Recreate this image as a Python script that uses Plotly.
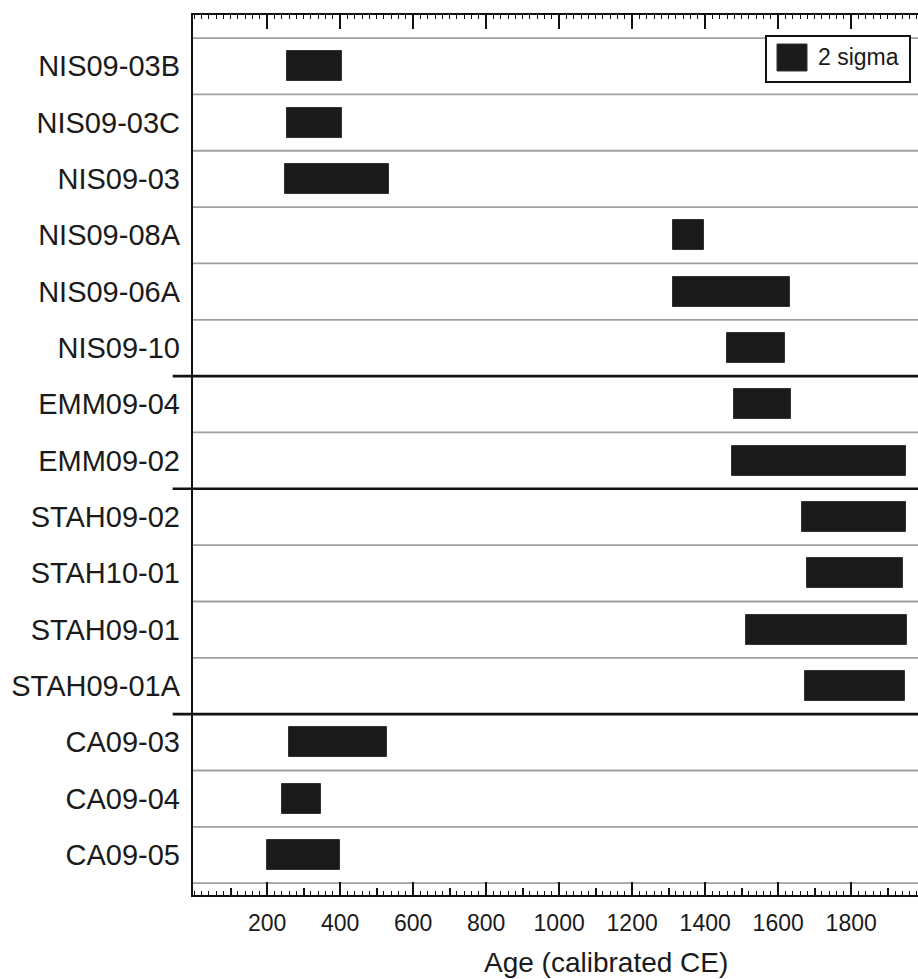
import plotly.graph_objects as go

# ---- data ----
samples = ["NIS09-03B", "NIS09-03C", "NIS09-03", "NIS09-08A", "NIS09-06A", "NIS09-10",
           "EMM09-04", "EMM09-02",
           "STAH09-02", "STAH10-01", "STAH09-01", "STAH09-01A",
           "CA09-03", "CA09-04", "CA09-05"]
start_ce = [255, 255, 250, 1311, 1311, 1460,
            1478, 1473,
            1664, 1680, 1512, 1673,
            260, 240, 200]
end_ce = [405, 405, 533, 1396, 1632, 1620,
          1635, 1950,
          1950, 1941, 1952, 1947,
          528, 347, 400]
group_sizes = [6, 2, 4, 3]
major_ticks = [200, 400, 600, 800, 1000, 1200, 1400, 1600, 1800]
legend_label = "2 sigma"
x_title = "Age (calibrated CE)"

# ---- layout geometry (pixels) ----
W, H = 918, 979
L, T, R, B = 193, 15, 918, 895
pw, ph = R - L, B - T

def px(x):
    return (x - L) / pw

def py(y):
    return (B - y) / ph

n = len(samples)
ypos = list(range(n))
xr = [-3, 1983]
yr = [n - 1 + 0.71, -0.91]
FONT = "Liberation Sans, Arial, sans-serif"
INK = "#1a1a1a"

fig = go.Figure()
fig.add_trace(go.Bar(
    y=ypos, x=[e - s for s, e in zip(start_ce, end_ce)], base=start_ce,
    orientation="h", width=0.53,
    marker=dict(color=INK, line=dict(color="#333333", width=1)),
    showlegend=False, hoverinfo="skip"))
fig.add_trace(go.Scatter(x=[], y=[], xaxis="x2", yaxis="y", showlegend=False))
fig.add_trace(go.Scatter(x=[], y=[], xaxis="x3", yaxis="y", showlegend=False))

shapes = []
group_ends = []
acc = 0
for g in group_sizes:
    acc += g
    group_ends.append(acc)
for k in range(n + 1):
    yb = k - 0.5
    if k in group_ends[:-1]:
        shapes.append(dict(type="line", xref="paper", yref="y", x0=-0.028, x1=1,
                           y0=yb, y1=yb, line=dict(color="#111111", width=2.6), layer="below"))
    else:
        shapes.append(dict(type="line", xref="paper", yref="y", x0=0, x1=1,
                           y0=yb, y1=yb, line=dict(color="#a0a0a0", width=1.8), layer="below"))

# manual legend
shapes.append(dict(type="rect", xref="paper", yref="paper", x0=px(766), x1=px(910),
                   y0=py(82), y1=py(36), fillcolor="white",
                   line=dict(color="#111111", width=2), layer="above"))
shapes.append(dict(type="rect", xref="paper", yref="paper", x0=px(777), x1=px(807),
                   y0=py(71), y1=py(44), fillcolor=INK,
                   line=dict(color="#333333", width=1), layer="above"))

annotations = [
    dict(text=legend_label, xref="paper", yref="paper", x=px(816), y=py(57),
         xanchor="left", yanchor="middle", showarrow=False,
         font=dict(family=FONT, size=23, color=INK)),
    dict(text=x_title, xref="paper", yref="paper", x=px(606), y=py(963),
         xanchor="center", yanchor="middle", showarrow=False,
         font=dict(family=FONT, size=28, color=INK)),
]

fig.update_layout(
    width=W, height=H,
    margin=dict(l=L, r=W - R, t=T, b=H - B, pad=0),
    paper_bgcolor="white", plot_bgcolor="white",
    font=dict(family=FONT, color=INK),
    bargap=0,
    shapes=shapes, annotations=annotations,
    xaxis=dict(range=xr, side="bottom", anchor="y",
               showline=True, linecolor="#111111", linewidth=2, mirror=False,
               showgrid=False, zeroline=False,
               tickmode="array", tickvals=major_ticks,
               ticktext=[str(v) for v in major_ticks],
               ticks="inside", ticklen=13, tickwidth=1.8, tickcolor="#111111",
               tickfont=dict(family=FONT, size=23, color=INK),
               ticklabelstandoff=6,
               minor=dict(tickmode="linear", tick0=0, dtick=20, ticks="inside",
                          ticklen=4, tickwidth=1.3, tickcolor="#111111", showgrid=False)),
    xaxis2=dict(range=xr, overlaying="x", side="bottom", anchor="y",
                showline=False, showgrid=False, zeroline=False,
                tickmode="linear", tick0=100, dtick=200,
                ticks="inside", ticklen=7, tickwidth=1.5, tickcolor="#111111",
                showticklabels=False),
    xaxis3=dict(range=xr, overlaying="x", side="top", anchor="y",
                showline=True, linecolor="#111111", linewidth=2,
                showgrid=False, zeroline=False,
                tickmode="array", tickvals=major_ticks,
                ticks="inside", ticklen=14, tickwidth=1.8, tickcolor="#111111",
                showticklabels=False,
                minor=dict(tickmode="linear", tick0=0, dtick=20, ticks="inside",
                           ticklen=4, tickwidth=1.3, tickcolor="#111111", showgrid=False)),
    yaxis=dict(range=yr, tickmode="array", tickvals=ypos, ticktext=samples,
               ticks="", showline=True, linecolor="#111111", linewidth=2.4,
               showgrid=False, zeroline=False,
               tickfont=dict(family=FONT, size=29, color=INK),
               ticklabelstandoff=5),
)

fig.write_html("out.html", config={"displayModeBar": False},
               post_script="document.body.style.margin='0';document.body.style.overflow='hidden';")
